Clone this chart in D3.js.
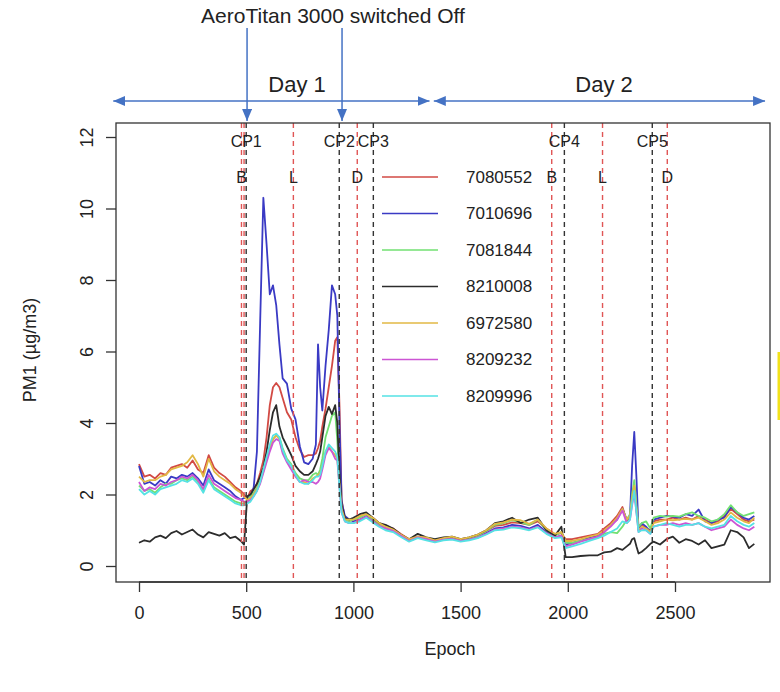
<!DOCTYPE html>
<html>
<head>
<meta charset="utf-8">
<script src="https://cdn.jsdelivr.net/npm/d3@7"></script>
<style>
body { margin: 0; background: #fff; }
svg text { font-family: "Liberation Sans", Arial, sans-serif; fill: #222; }
</style>
</head>
<body>
<script>
// epochs shared by all sensors (denser around the peaks)
var epochs = [0,25,50,75,100,125,150,175,200,225,250,275,300,325,350,375,400,425,450,475,490,
  505,520,535,550,565,580,595,610,625,640,655,670,690,710,730,750,770,790,810,825,835,845,855,870,885,900,915,925,935,945,960,980,1000,
  1030,1060,1090,1120,1150,1185,1220,1260,1300,1340,1380,1420,1460,1500,1540,1580,1620,1660,1700,1740,1780,1820,1860,1900,1940,1970,1990,
  2020,2060,2100,2140,2170,2200,2230,2255,2275,2290,2300,2310,2320,2330,2345,2365,2385,2400,2430,2460,2490,2520,2550,2580,2610,2640,2670,2700,2730,2760,2790,2820,2845,2870];

var pm7080552 = [2.85,2.5,2.55,2.45,2.6,2.55,2.75,2.8,2.85,2.75,2.95,2.7,2.6,3.1,2.75,2.6,2.5,2.35,2.2,2.1,2.0,
  1.9,2.1,2.15,2.3,2.6,2.95,3.6,4.5,5.0,5.12,5.0,4.7,4.3,4.1,3.6,3.25,3.05,3.1,3.1,3.15,3.3,3.5,3.9,4.4,5.0,5.6,6.3,6.4,4.5,1.85,1.35,1.3,1.3,
  1.4,1.45,1.35,1.2,1.1,1.05,0.9,0.75,0.82,0.78,0.72,0.78,0.8,0.75,0.78,0.85,0.98,1.12,1.15,1.22,1.2,1.15,1.25,1.05,0.88,0.92,0.75,
  0.75,0.8,0.85,0.9,1.05,1.2,1.4,1.65,1.25,1.4,1.9,2.2,1.6,1.05,1.15,1.05,1.0,1.25,1.3,1.3,1.35,1.3,1.35,1.3,1.4,1.3,1.2,1.25,1.4,1.6,1.45,1.3,1.25,1.3];
var pm7010696 = [2.8,2.3,2.35,2.25,2.4,2.3,2.5,2.45,2.55,2.5,2.6,2.45,2.25,2.7,2.4,2.3,2.2,2.1,1.95,1.85,1.9,
  1.9,1.95,2.2,3.2,6.8,10.3,9.0,7.6,7.85,7.3,6.2,5.25,5.1,4.4,4.1,3.35,2.9,2.85,3.0,3.4,6.2,5.0,4.35,5.6,6.6,7.85,7.6,7.0,4.0,1.8,1.4,1.3,1.25,
  1.3,1.4,1.28,1.15,1.05,1.0,0.85,0.7,0.8,0.75,0.68,0.75,0.78,0.7,0.75,0.8,0.92,1.05,1.08,1.15,1.12,1.05,1.15,0.95,0.8,0.85,0.6,
  0.65,0.7,0.8,0.85,0.95,1.15,1.3,1.6,1.3,1.4,2.8,3.75,2.5,1.0,1.2,1.1,0.95,1.3,1.35,1.4,1.38,1.35,1.45,1.4,1.58,1.25,1.2,1.3,1.35,1.65,1.5,1.35,1.3,1.4];
var pm7081844 = [2.25,2.1,2.15,2.05,2.2,2.3,2.3,2.4,2.45,2.4,2.5,2.35,2.1,2.45,2.2,2.1,2.0,1.9,1.8,1.75,1.75,
  1.85,1.95,2.05,2.2,2.4,2.7,3.0,3.3,3.55,3.65,3.6,3.3,3.0,2.85,2.6,2.45,2.4,2.4,2.55,2.6,2.55,2.7,3.0,3.6,3.9,4.2,4.3,3.5,2.4,1.6,1.3,1.25,1.3,
  1.35,1.45,1.3,1.15,1.1,1.0,0.85,0.72,0.82,0.78,0.7,0.78,0.8,0.72,0.78,0.85,0.98,1.15,1.2,1.28,1.22,1.15,1.3,1.0,0.85,0.95,0.65,
  0.65,0.7,0.75,0.8,0.9,0.95,0.92,1.1,1.3,1.45,2.0,2.4,1.7,1.1,1.2,1.25,1.05,1.35,1.4,1.38,1.4,1.38,1.45,1.5,1.4,1.35,1.25,1.3,1.45,1.7,1.5,1.4,1.45,1.5];
var pm8210008 = [0.65,0.72,0.68,0.8,0.85,0.78,0.92,0.98,0.88,0.95,1.02,0.88,0.8,0.95,0.9,0.85,0.92,0.78,0.82,0.7,0.6,
  1.95,2.0,2.15,2.3,2.5,2.75,3.2,3.8,4.3,4.5,3.9,3.6,3.35,3.1,2.8,2.65,2.55,2.55,2.65,2.85,3.0,3.2,3.6,4.2,4.45,4.25,4.5,4.0,2.6,1.7,1.35,1.3,1.35,
  1.45,1.5,1.35,1.2,1.15,1.05,0.88,0.75,0.9,0.8,0.75,0.8,0.82,0.75,0.8,0.88,1.0,1.2,1.25,1.35,1.2,1.3,1.35,1.0,0.85,1.1,0.25,
  0.25,0.28,0.3,0.3,0.38,0.4,0.5,0.45,0.55,0.62,0.75,0.78,0.55,0.35,0.4,0.5,0.62,0.68,0.6,0.75,0.82,0.65,0.75,0.7,0.6,0.72,0.5,0.55,0.6,1.0,0.95,0.8,0.5,0.62];
var pm6972580 = [2.5,2.35,2.4,2.4,2.5,2.55,2.7,2.75,2.8,2.9,3.1,2.85,2.5,3.0,2.65,2.5,2.4,2.3,2.15,2.05,1.95,
  1.85,1.9,2.0,2.15,2.35,2.65,3.0,3.3,3.55,3.65,3.55,3.2,2.95,2.8,2.55,2.35,2.35,2.3,2.45,2.5,2.55,2.6,2.8,3.2,3.35,3.2,3.1,3.0,2.3,1.6,1.3,1.3,1.3,
  1.4,1.45,1.35,1.2,1.1,1.02,0.88,0.75,0.82,0.8,0.72,0.78,0.82,0.75,0.8,0.88,1.0,1.18,1.22,1.3,1.28,1.18,1.3,1.05,0.9,0.95,0.7,
  0.7,0.75,0.82,0.88,1.0,1.15,1.35,1.6,1.3,1.4,1.9,2.25,1.6,1.0,1.1,1.05,0.95,1.2,1.25,1.3,1.28,1.3,1.32,1.3,1.35,1.25,1.15,1.2,1.3,1.5,1.35,1.25,1.2,1.35];
var pm8209232 = [2.35,2.1,2.2,2.15,2.3,2.25,2.35,2.4,2.5,2.45,2.55,2.4,2.15,2.55,2.3,2.2,2.1,2.0,1.9,1.85,1.8,
  1.8,1.85,1.95,2.1,2.3,2.6,2.9,3.2,3.45,3.55,3.5,3.15,2.9,2.7,2.5,2.35,2.4,2.35,2.35,2.3,2.35,2.45,2.7,3.1,3.3,3.2,3.0,2.95,2.2,1.5,1.25,1.2,1.2,
  1.3,1.38,1.25,1.12,1.05,0.98,0.85,0.7,0.8,0.75,0.68,0.74,0.76,0.7,0.74,0.8,0.9,1.02,1.05,1.1,1.08,1.02,1.1,0.92,0.8,0.85,0.55,
  0.6,0.68,0.75,0.82,0.95,1.1,1.3,1.55,1.2,1.3,1.7,2.05,1.5,0.95,1.05,1.0,0.9,1.1,1.15,1.15,1.2,1.15,1.2,1.15,1.2,1.1,1.0,1.05,1.1,1.3,1.15,1.05,1.0,1.1];
var pm8209996 = [2.15,2.0,2.1,2.0,2.15,2.2,2.25,2.3,2.4,2.35,2.45,2.3,2.05,2.4,2.15,2.05,1.95,1.85,1.75,1.7,1.7,
  1.75,1.8,1.95,2.1,2.35,2.7,3.05,3.4,3.65,3.7,3.6,3.25,2.95,2.8,2.55,2.35,2.3,2.3,2.4,2.5,2.5,2.55,2.8,3.2,3.4,3.3,3.2,3.05,2.2,1.5,1.25,1.2,1.2,
  1.25,1.35,1.22,1.1,1.0,0.95,0.82,0.68,0.78,0.72,0.66,0.72,0.74,0.68,0.72,0.78,0.88,1.0,1.02,1.08,1.05,1.0,1.08,0.9,0.78,0.8,0.5,
  0.55,0.62,0.7,0.78,0.85,0.95,1.05,1.25,1.2,1.3,1.75,2.1,1.5,0.95,1.0,1.0,0.9,1.1,1.15,1.2,1.15,1.1,1.15,1.15,1.2,1.1,1.05,1.1,1.15,1.4,1.25,1.15,1.1,1.2];

var sensorIds = ["7080552", "7010696", "7081844", "8210008", "6972580", "8209232", "8209996"];
var sensorValues = [pm7080552, pm7010696, pm7081844, pm8210008, pm6972580, pm8209232, pm8209996];
var sensorColors = ["#d24a44", "#3a3ac4", "#72e072", "#2c2c2c", "#e2b844", "#cc55d4", "#55e2e4"];

var xTicks = [0, 500, 1000, 1500, 2000, 2500];
var yTicks = [0, 2, 4, 6, 8, 10, 12];

var cpEpochs = [500, 934, 1093, 1984, 2394];
var cpLabels = ["CP1", "CP2", "CP3", "CP4", "CP5"];
var mealEpochs = [478, 720, 1018, 1925, 2162, 2464];
var mealLabels = ["B", "L", "D", "B", "L", "D"];
var extraRedEpochs = [490];

var dayLabels = ["Day 1", "Day 2"];
var daySpans = [[-120, 1355], [1375, 2920]];
var dayLabelEpochs = [737, 2169];
var offArrowEpochs = [504, 947];
var offText = "AeroTitan 3000 switched Off";

var width = 780, height = 692;
var box = {left: 116, right: 770, top: 123, bottom: 582};
var blue = "#4472c4";
var annFont = "Lato, 'Open Sans', sans-serif";

var svg = d3.select("body").append("svg").attr("width", width).attr("height", height);

var x = d3.scaleLinear().domain([0, 2500]).range([139, 675]);
var y = d3.scaleLinear().domain([0, 12]).range([566, 137]);

svg.append("defs").append("clipPath").attr("id", "plotclip")
    .append("rect").attr("x", box.left).attr("y", box.top)
    .attr("width", box.right - box.left).attr("height", box.bottom - box.top);

var marker = svg.select("defs").append("marker")
    .attr("id", "arrowhead").attr("viewBox", "0 0 12 10")
    .attr("refX", 12).attr("refY", 5)
    .attr("markerWidth", 12).attr("markerHeight", 10)
    .attr("markerUnits", "userSpaceOnUse")
    .attr("orient", "auto-start-reverse");
marker.append("path").attr("d", "M0,0 L12,5 L0,10 Z").attr("fill", blue);

// axes
var xAxis = svg.append("g").attr("transform", "translate(0," + box.bottom + ")")
    .call(d3.axisBottom(x).tickValues(xTicks).tickFormat(d3.format("d")).tickSize(10).tickPadding(14));
xAxis.select(".domain").remove();
xAxis.selectAll("line").attr("stroke", "#333").attr("stroke-width", 1.3);
xAxis.selectAll("text").attr("font-size", 18).attr("fill", "#222");
xAxis.append("line").attr("x1", x(0)).attr("x2", x(2500)).attr("stroke", "#333").attr("stroke-width", 1.3);

var yAxis = svg.append("g").attr("transform", "translate(" + box.left + ",0)")
    .call(d3.axisLeft(y).tickValues(yTicks).tickSize(10));
yAxis.select(".domain").remove();
yAxis.selectAll("line").attr("stroke", "#333").attr("stroke-width", 1.3);
yAxis.selectAll("text")
    .attr("x", 0).attr("dy", "0.35em")
    .attr("text-anchor", "middle")
    .attr("transform", "translate(-29,0) rotate(-90)")
    .attr("font-size", 18).attr("fill", "#222");

svg.append("text").attr("transform", "translate(36,350) rotate(-90)")
    .attr("text-anchor", "middle").attr("font-size", 18).text("PM1 (µg/m3)");
svg.append("text").attr("x", 450).attr("y", 655)
    .attr("text-anchor", "middle").attr("font-size", 18).text("Epoch");

// series
var plot = svg.append("g").attr("clip-path", "url(#plotclip)");
var line = d3.line()
    .x(function(d, i) { return x(epochs[i]); })
    .y(function(d) { return y(d); });

sensorValues.forEach(function(vals, k) {
    plot.append("path").datum(vals)
        .attr("d", line)
        .attr("fill", "none")
        .attr("stroke", sensorColors[k])
        .attr("stroke-width", 1.8)
        .attr("stroke-linejoin", "round");
});

// change point and meal markers
function vline(e, color) {
    plot.append("line").attr("x1", x(e)).attr("x2", x(e))
        .attr("y1", box.top).attr("y2", box.bottom)
        .attr("stroke", color).attr("stroke-width", 1.4)
        .attr("stroke-dasharray", "5,4");
}
mealEpochs.forEach(function(e) { vline(e, "#e05555"); });
extraRedEpochs.forEach(function(e) { vline(e, "#e05555"); });
cpEpochs.forEach(function(e) { vline(e, "#333"); });

svg.selectAll(".cplab").data(cpEpochs).enter().append("text")
    .attr("x", function(d) { return x(d); }).attr("y", 141).attr("dy", "0.35em")
    .attr("text-anchor", "middle").attr("font-size", 16)
    .text(function(d, i) { return cpLabels[i]; });
svg.selectAll(".meallab").data(mealEpochs).enter().append("text")
    .attr("x", function(d) { return x(d); }).attr("y", 177).attr("dy", "0.35em")
    .attr("text-anchor", "middle").attr("font-size", 16)
    .text(function(d, i) { return mealLabels[i]; });

// legend
var legend = svg.append("g");
sensorIds.forEach(function(id, k) {
    var ly = 177 + k * 36.5;
    legend.append("line").attr("x1", 382).attr("x2", 438).attr("y1", ly).attr("y2", ly)
        .attr("stroke", sensorColors[k]).attr("stroke-width", 1.6);
    legend.append("text").attr("x", 466).attr("y", ly).attr("dy", "0.35em")
        .attr("font-size", 17).text(id);
});

// box
svg.append("rect").attr("x", box.left).attr("y", box.top)
    .attr("width", box.right - box.left).attr("height", box.bottom - box.top)
    .attr("fill", "none").attr("stroke", "#333").attr("stroke-width", 1.3);

// annotations
var ann = svg.append("g");
daySpans.forEach(function(s, i) {
    ann.append("line").attr("x1", x(s[0])).attr("x2", x(s[1])).attr("y1", 101).attr("y2", 101)
        .attr("stroke", blue).attr("stroke-width", 1.5)
        .attr("marker-start", "url(#arrowhead)").attr("marker-end", "url(#arrowhead)");
    ann.append("text").attr("x", x(dayLabelEpochs[i])).attr("y", 92)
        .attr("text-anchor", "middle").attr("font-family", annFont)
        .attr("font-size", 22).attr("fill", "#111").text(dayLabels[i]);
});
offArrowEpochs.forEach(function(e) {
    ann.append("line").attr("x1", x(e)).attr("x2", x(e)).attr("y1", 28).attr("y2", 121)
        .attr("stroke", blue).attr("stroke-width", 1.5)
        .attr("marker-end", "url(#arrowhead)");
});
ann.append("text").attr("x", 333).attr("y", 23).attr("text-anchor", "middle")
    .attr("font-family", annFont)
    .attr("font-size", 21).attr("fill", "#111").text(offText);

// yellow sliver at the right edge
svg.append("line").attr("x1", 779).attr("x2", 779).attr("y1", 352).attr("y2", 420)
    .attr("stroke", "#f2e21a").attr("stroke-width", 3);
</script>
</body>
</html>
